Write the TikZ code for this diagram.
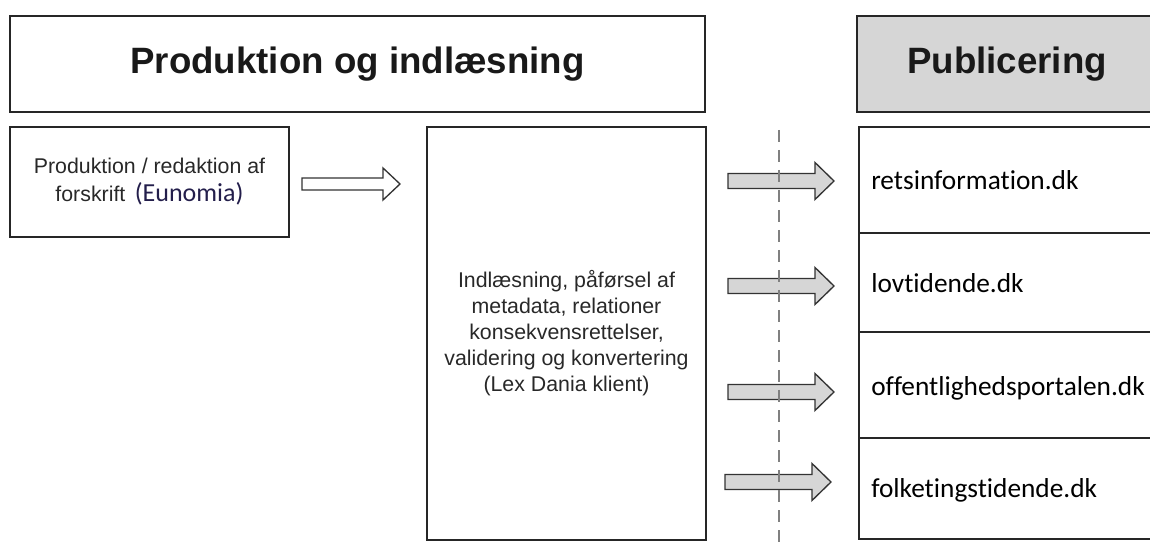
\documentclass[tikz,border=0pt]{standalone}
\usepackage{fontspec}
\setmainfont{Liberation Sans}
\newfontfamily\calibri[Ligatures=NoCommon]{Carlito}
\definecolor{pubgray}{RGB}{214,214,214}
\definecolor{txtgray}{RGB}{40,40,40}
\definecolor{navy}{RGB}{35,30,75}
\tikzset{
  box/.style={draw=black!85, line width=1pt},
  headtext/.style={font=\fontsize{27.5}{33}\selectfont\bfseries, text=black!90},
  info/.style={font=\fontsize{16}{19.5}\selectfont, text=txtgray, align=center},
  site/.style={font=\calibri\fontsize{20.5}{24}\selectfont, anchor=base west, inner sep=0pt},
  garrow/.style={draw=black!80, fill=pubgray, line width=1pt},
  warrow/.style={draw=black!80, fill=white, line width=1pt},
  divider/.style={draw=black!50, line width=1.5pt, dash pattern=on 9pt off 6pt},
}
\begin{document}
\begin{tikzpicture}[x=0.75pt,y=-0.75pt]
\useasboundingbox (0,0) rectangle (1150,545);
\clip (0,0) rectangle (1150,545);
% headers
\draw[box] (10,16) rectangle (705,112) node[pos=0.5,headtext] (prodhead) {Produktion og indlæsning};
\draw[box,fill=pubgray] (857,16) rectangle (1157,112) node[pos=0.5,headtext] (pubhead) {Publicering};
% production and loading
\draw[box] (10,127) rectangle (289,237) node[pos=0.5,info] (prod) {Produktion / redaktion af\\[1.5pt]forskrift\, {\calibri\fontsize{19.5}{19.5}\selectfont\color{navy}(Eunomia)}};
\draw[box] (427,127) rectangle (706,540) node[pos=0.5,info] (load) {Indlæsning, påførsel af\\metadata, relationer\\konsekvensrettelser,\\validering og konvertering\\(Lex Dania klient)};
\draw[warrow] (302,178) -- ++(81,0) -- ++(0,-10) -- ++(17,16) -- ++(-17,16) -- ++(0,-10) -- ++(-81,0) -- cycle;
% arrows to the sites
\foreach \x/\y in {728/181, 728/286, 728/392, 725/482}
  \draw[garrow] (\x,\y-7.5) -- ++(87,0) -- ++(0,-11) -- ++(19,18.5) -- ++(-19,18.5) -- ++(0,-11) -- ++(-87,0) -- cycle;
\draw[divider] (779,130) -- (779,545);
% publishing sites
\draw[box] (859,127) rectangle (1157,233);
\draw[box] (859,233) rectangle (1157,332);
\draw[box] (859,332) rectangle (1157,438);
\draw[box] (859,438) rectangle (1157,539);
\node[site] (rets) at (871,190) {retsinformation.dk};
\node[site] (lovt) at (871,293) {lovtidende.dk};
\node[site] (offp) at (871,395) {offentlighedsportalen.dk};
\node[site] (folk) at (871,497) {folketingstidende.dk};
\end{tikzpicture}
\end{document}
